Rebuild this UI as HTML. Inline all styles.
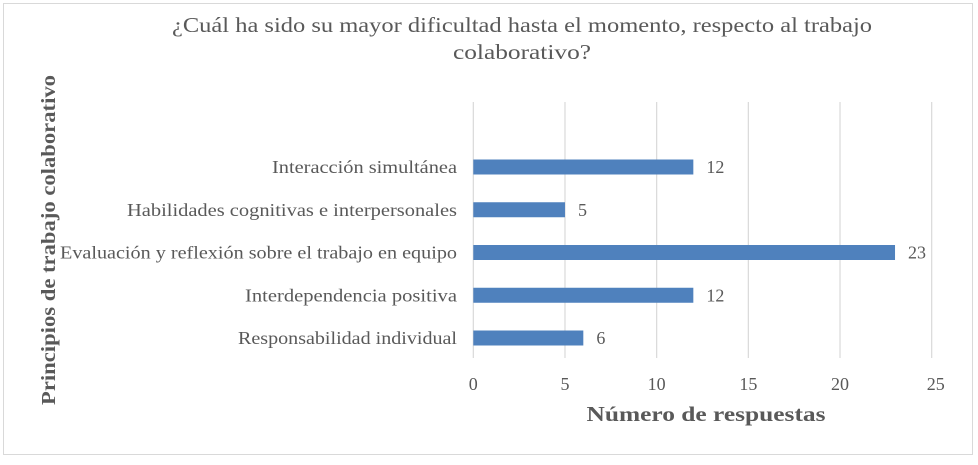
<!DOCTYPE html>
<html><head><meta charset="utf-8"><style>
body{margin:0;background:#fff}
svg text{font-family:"Liberation Serif","DejaVu Serif",serif;fill:#595959}
</style></head><body>
<svg width="978" height="460" xmlns="http://www.w3.org/2000/svg">
<rect x="3.5" y="3.5" width="969" height="451" fill="#fff" stroke="#d9d9d9"/>
<text x="522" y="32" text-anchor="middle" font-size="21" textLength="700" lengthAdjust="spacingAndGlyphs">¿Cuál ha sido su mayor dificultad hasta  el momento, respecto al trabajo</text>
<text x="522" y="59" text-anchor="middle" font-size="21" textLength="138" lengthAdjust="spacingAndGlyphs">colaborativo?</text>
<g id="grid"></g><g id="bars"></g><g id="labels"></g>
<text x="706" y="421" text-anchor="middle" font-size="21" font-weight="bold" textLength="239" lengthAdjust="spacingAndGlyphs">Número de respuestas</text>
<text transform="translate(55,240) rotate(-90)" text-anchor="middle" font-size="20" font-weight="bold" textLength="330" lengthAdjust="spacingAndGlyphs">Principios de trabajo colaborativo</text>
</svg>
<script>
const categories=["Interacción simultánea","Habilidades cognitivas  e interpersonales","Evaluación y reflexión sobre  el trabajo en equipo","Interdependencia positiva","Responsabilidad individual"];
const values=[12,5,23,12,6];
const ticks=[0,5,10,15,20,25];
const labelWidths=[185,330,397,212,219];
const NS="http://www.w3.org/2000/svg";
const x0=473.3,x1=931.7,xmax=25;
const X=v=>x0+(x1-x0)*v/xmax;
const yTop=102,yBot=358;
const Y=i=>167+i*42.75;
function mk(t,a,p){const e=document.createElementNS(NS,t);for(const k in a)e.setAttribute(k,a[k]);p.appendChild(e);return e;}
const g=document.getElementById('grid'),b=document.getElementById('bars'),l=document.getElementById('labels');
ticks.forEach(t=>{
 const ln=mk('line',{x1:X(t),x2:X(t),y1:yTop,y2:yBot,stroke:'#d9d9d9','stroke-width':1.2},g);
 
 
 const tx=mk('text',{x:X(t)+(t===25?4:0),y:390,'text-anchor':'middle','font-size':18},g);
 tx.textContent=t;
 
 
});
categories.forEach((c,i)=>{
 const y=Y(i);
 const r=mk('rect',{x:X(0),y:y-7.5,width:X(values[i])-X(0),height:15,fill:'#4f81bd'},b);
 
 
 const v=mk('text',{x:X(values[i])+13,y:y+6,'font-size':18},l);
 v.textContent=values[i];
 
 
 const ct=mk('text',{x:457,y:y+6,'text-anchor':'end','font-size':18,textLength:labelWidths[i],lengthAdjust:'spacingAndGlyphs'},l);
 ct.textContent=c;
 
 
});
</script>
</body></html>
